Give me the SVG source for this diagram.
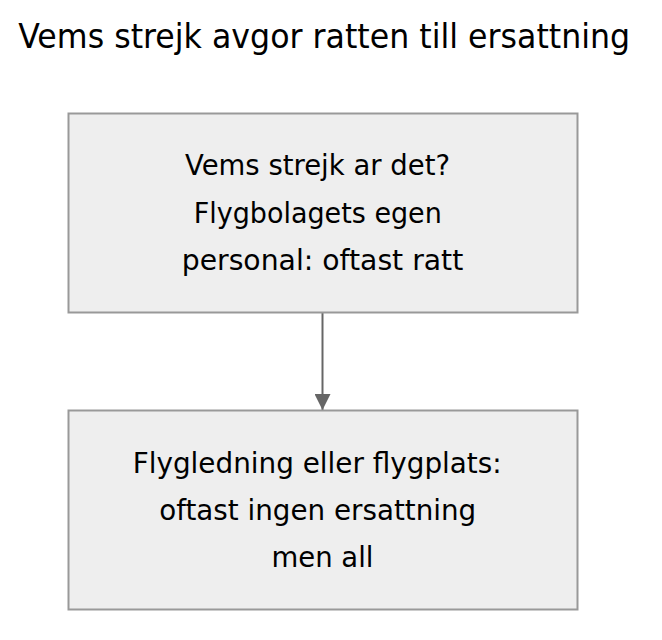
<svg xmlns="http://www.w3.org/2000/svg" width="662" height="640" viewBox="0 0 662 640">
  <style>
    .title { font-family: "DejaVu Sans", "Liberation Sans", sans-serif; font-size: 33px; fill: #000; text-anchor: middle; }
    .node rect { fill: #eeeeee; stroke: #999999; stroke-width: 2; }
    .node text { font-family: "DejaVu Sans", "Liberation Sans", sans-serif; font-size: 28px; fill: #000; text-anchor: middle; }
    .edge { stroke: #666666; stroke-width: 2; fill: none; }
  </style>
  <defs>
    <marker id="arrow" markerWidth="16" markerHeight="16" refX="16" refY="8" orient="auto" markerUnits="userSpaceOnUse">
      <path d="M0,0 L16,8 L0,16 Z" fill="#666666"/>
    </marker>
  </defs>
  <rect width="662" height="640" fill="#ffffff"/>
  <text class="title" x="324.2" y="48" textLength="612" lengthAdjust="spacingAndGlyphs">Vems strejk avgor ratten till ersattning</text>
  <g id="connectors">
    <line class="edge" x1="322.5" y1="313" x2="322.5" y2="410" marker-end="url(#arrow)"/>
  </g>
  <g id="node1" class="node">
    <rect x="68.5" y="113.5" width="509" height="199"/>
    <text x="317.5" y="175" textLength="265" lengthAdjust="spacingAndGlyphs">Vems strejk ar det?</text>
    <text x="317.8" y="223" textLength="248" lengthAdjust="spacingAndGlyphs">Flygbolagets egen</text>
    <text x="322.5" y="270" textLength="281.6" lengthAdjust="spacingAndGlyphs">personal: oftast ratt</text>
  </g>
  <g id="node2" class="node">
    <rect x="68.5" y="410.5" width="509" height="199"/>
    <text x="317.2" y="473" textLength="369" lengthAdjust="spacingAndGlyphs">Flygledning eller flygplats:</text>
    <text x="317.7" y="520" textLength="317" lengthAdjust="spacingAndGlyphs">oftast ingen ersattning</text>
    <text x="322.5" y="567" textLength="102" lengthAdjust="spacingAndGlyphs">men all</text>
  </g>
</svg>
